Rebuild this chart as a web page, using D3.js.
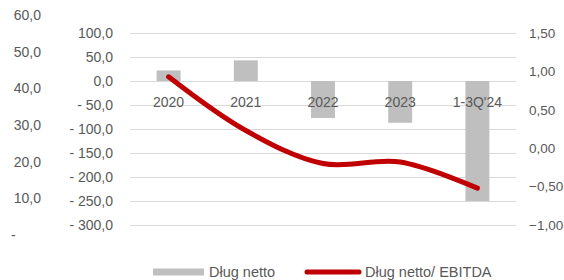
<!DOCTYPE html>
<html>
<head>
<meta charset="utf-8">
<script src="https://cdn.jsdelivr.net/npm/d3@7"></script>
<style>
  body { margin: 0; background: #fff; }
  text { font-family: "Liberation Sans", Arial, sans-serif; fill: #595959; }
</style>
</head>
<body>
<div id="vis"></div>
<script>
// data
var categories = ["2020", "2021", "2022", "2023", "1-3Q'24"];
var netDebt = [22, 43, -77, -87, -250];           // Dług netto (left axis)
var debtToEbitda = [0.93, 0.23, -0.20, -0.18, -0.52]; // Dług netto/ EBITDA (right axis)
var leftTicks = [100, 50, 0, -50, -100, -150, -200, -250, -300];
var rightTicks = [1.5, 1.0, 0.5, 0.0, -0.5, -1.0];
var strayTicks = [60, 50, 40, 30, 20, 10, 0]; // leftover axis of a neighbouring chart

var width = 564, height = 280;
var plot = { left: 130, right: 516, top: 33, bottom: 225 };

var svg = d3.select('#vis').append('svg')
  .attr('width', width)
  .attr('height', height);

var x = d3.scaleBand().domain(categories)
  .range([plot.left, plot.right])
  .paddingInner(0.69).paddingOuter(0.345);
var yL = d3.scaleLinear().domain([-300, 100]).range([plot.bottom, plot.top]);
var yR = d3.scaleLinear().domain([-1, 1.5]).range([plot.bottom, plot.top]);
var yS = d3.scaleLinear().domain([0, 60]).range([235, 15]);

function fmtComma(v, d) {
  return d3.format('.' + d + 'f')(v).replace('.', ',');
}
function fmtLeft(v) {
  if (v < 0) return '- ' + fmtComma(-v, 1);
  return fmtComma(v, 1);
}

// stray axis on the far left
svg.append('g').selectAll('text')
  .data(strayTicks)
  .join('text')
  .attr('x', function(d) { return d === 0 ? 11 : 41; })
  .attr('y', function(d) { return yS(d); })
  .attr('dy', '0.35em')
  .attr('text-anchor', function(d) { return d === 0 ? 'start' : 'end'; })
  .style('font-size', '14px')
  .text(function(d) { return d === 0 ? '-' : fmtComma(d, 1); });

// gridlines
svg.append('g').selectAll('line')
  .data(leftTicks)
  .join('line')
  .attr('x1', plot.left).attr('x2', plot.right)
  .attr('y1', function(d) { return Math.round(yL(d)) + 0.5; })
  .attr('y2', function(d) { return Math.round(yL(d)) + 0.5; })
  .attr('stroke', '#d9d9d9')
  .attr('stroke-width', 1);

// left axis labels
svg.append('g').selectAll('text')
  .data(leftTicks)
  .join('text')
  .attr('x', 113)
  .attr('y', function(d) { return yL(d); })
  .attr('dy', '0.35em')
  .attr('text-anchor', 'end')
  .style('font-size', '14px')
  .text(fmtLeft);

// right axis labels
svg.append('g').selectAll('text')
  .data(rightTicks)
  .join('text')
  .attr('x', 529)
  .attr('y', function(d) { return yR(d); })
  .attr('dy', '0.35em')
  .style('font-size', '13.5px')
  .text(function(d) { return fmtComma(d, 2); });

// bars
svg.append('g').selectAll('rect')
  .data(netDebt)
  .join('rect')
  .attr('x', function(d, i) { return x(categories[i]); })
  .attr('width', x.bandwidth())
  .attr('y', function(d) { return yL(Math.max(0, d)); })
  .attr('height', function(d) { return Math.abs(yL(d) - yL(0)); })
  .attr('fill', '#bfbfbf');

// category labels sit just under the zero line
svg.append('g').selectAll('text')
  .data(categories)
  .join('text')
  .attr('x', function(d) { return x(d) + x.bandwidth() / 2; })
  .attr('y', yL(0) + 21)
  .attr('dy', '0.35em')
  .attr('text-anchor', 'middle')
  .style('font-size', '14px')
  .text(function(d) { return d; });

// smoothed ratio line
var line = d3.line()
  .x(function(d, i) { return x(categories[i]) + x.bandwidth() / 2; })
  .y(function(d) { return yR(d); })
  .curve(d3.curveCatmullRom.alpha(0.5));

svg.append('path')
  .datum(debtToEbitda)
  .attr('fill', 'none')
  .attr('stroke', '#c00000')
  .attr('stroke-width', 5)
  .attr('stroke-linecap', 'round')
  .attr('stroke-linejoin', 'round')
  .attr('d', line);

// legend
var legend = svg.append('g').attr('transform', 'translate(0,272)');
legend.append('rect')
  .attr('x', 153).attr('y', -3.5)
  .attr('width', 51).attr('height', 7)
  .attr('fill', '#bfbfbf');
legend.append('text')
  .attr('x', 209).attr('dy', '0.35em')
  .style('font-size', '14.5px')
  .text('Dług netto');
legend.append('line')
  .attr('x1', 307).attr('x2', 359)
  .attr('stroke', '#c00000')
  .attr('stroke-width', 5)
  .attr('stroke-linecap', 'round');
legend.append('text')
  .attr('x', 365).attr('dy', '0.35em')
  .style('font-size', '14.5px')
  .text('Dług netto/ EBITDA');
</script>
</body>
</html>
